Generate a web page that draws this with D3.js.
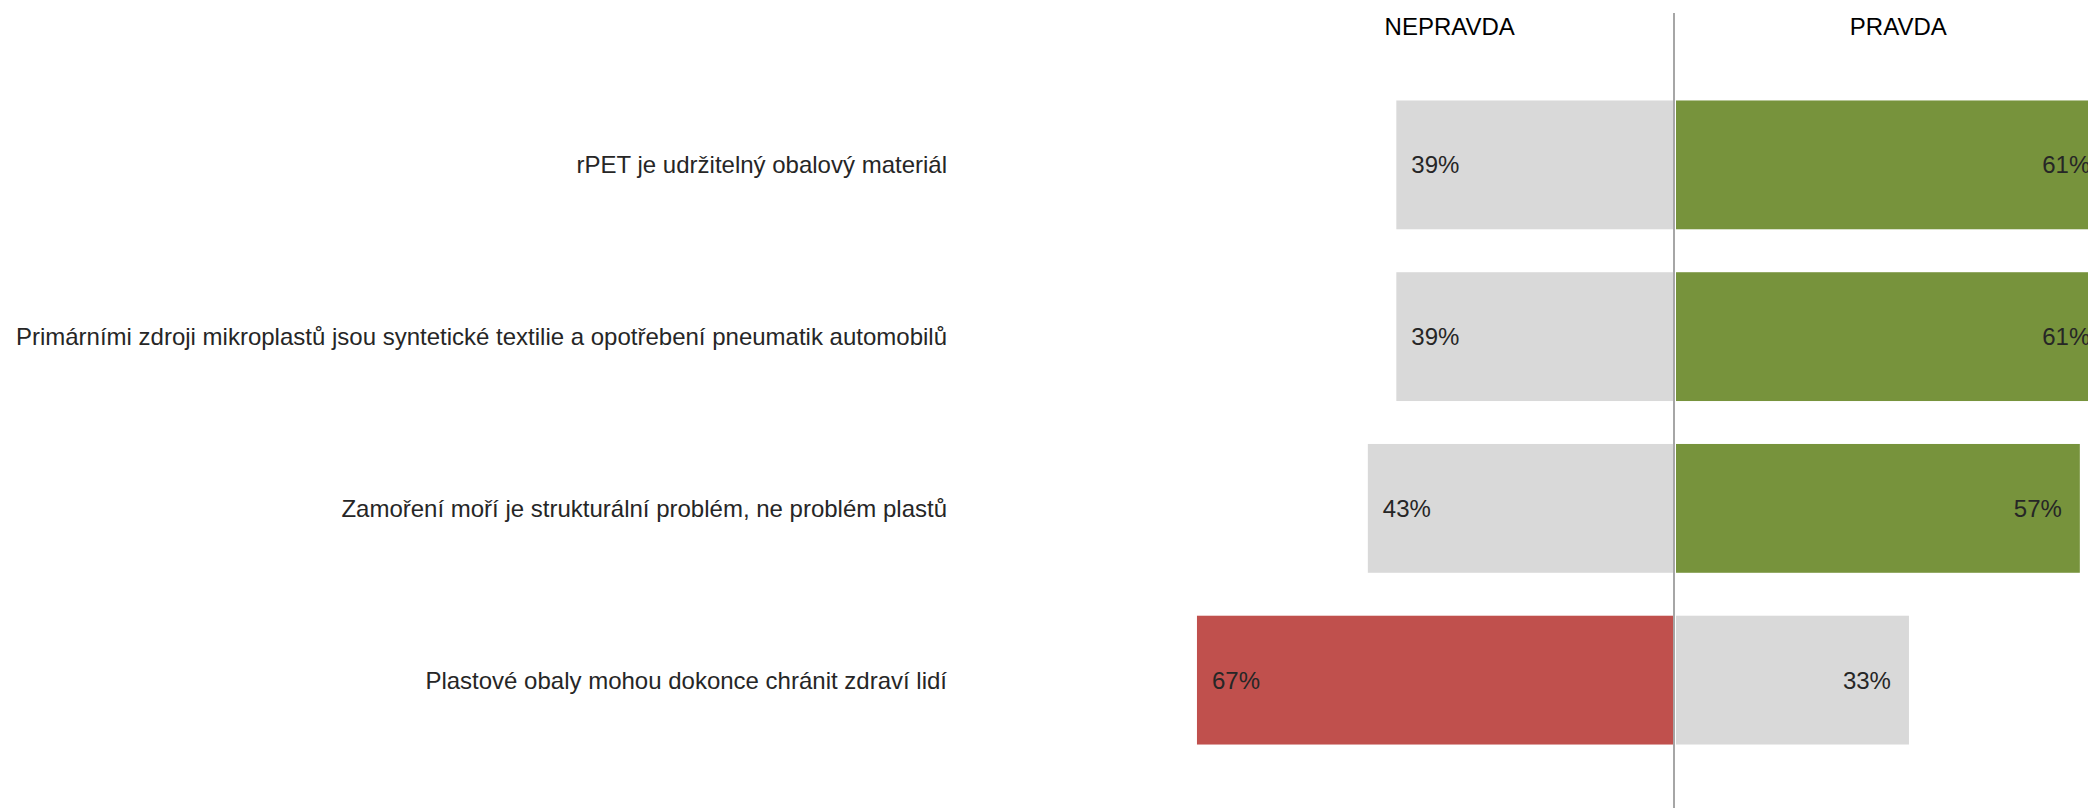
<!DOCTYPE html>
<html>
<head>
<meta charset="utf-8">
<script src="https://cdn.jsdelivr.net/npm/d3@7"></script>
<style>
  body { margin: 0; background: #fff; }
  text { font-family: "Liberation Sans", Arial, sans-serif; }
</style>
</head>
<body>
<div id="chart"></div>
<script>
// statements and answer shares
var categories = [
    "rPET je udržitelný obalový materiál",
    "Primárními zdroji mikroplastů jsou syntetické textilie a opotřebení pneumatik automobilů",
    "Zamoření moří je strukturální problém, ne problém plastů",
    "Plastové obaly mohou dokonce chránit zdraví lidí"
];
var nepravda = [39, 39, 43, 67];
var pravda = [61, 61, 57, 33];
var headers = ["NEPRAVDA", "PRAVDA"];

var width = 2088;
var height = 808;
var center = 1674;

var svg = d3.select("#chart")
    .append("svg")
    .attr("width", width)
    .attr("height", height);

var x = d3.scaleLinear()
    .domain([-100, 100])
    .range([center - 712, center + 712]);

var y = d3.scaleBand()
    .domain(categories)
    .range([79, 766])
    .paddingInner(0.25)
    .paddingOuter(0.125);

var data = categories.map(function(c, i) {
    return { cat: c, no: nepravda[i], yes: pravda[i] };
});

// left bars (nepravda)
svg.selectAll(".barNo")
    .data(data)
    .enter()
    .append("rect")
    .attr("class", "barNo")
    .attr("x", function(d) { return x(-d.no); })
    .attr("y", function(d) { return y(d.cat); })
    .attr("width", function(d) { return x(0) - x(-d.no); })
    .attr("height", y.bandwidth())
    .style("fill", function(d) { return d.no > 50 ? "#c0504d" : "#d9d9d9"; });

// right bars (pravda)
svg.selectAll(".barYes")
    .data(data)
    .enter()
    .append("rect")
    .attr("class", "barYes")
    .attr("x", x(0) + 2)
    .attr("y", function(d) { return y(d.cat); })
    .attr("width", function(d) { return x(d.yes) - x(0) - 2; })
    .attr("height", y.bandwidth())
    .style("fill", function(d) { return d.yes > 50 ? "#77933c" : "#d9d9d9"; });

// value labels
svg.selectAll(".lblNo")
    .data(data)
    .enter()
    .append("text")
    .attr("x", function(d) { return x(-d.no) + 15; })
    .attr("y", function(d) { return y(d.cat) + y.bandwidth() / 2; })
    .attr("dy", "0.35em")
    .style("font-size", "24px")
    .style("fill", "#262626")
    .text(function(d) { return d.no + "%"; });

svg.selectAll(".lblYes")
    .data(data)
    .enter()
    .append("text")
    .attr("x", function(d) { return x(d.yes) - 18; })
    .attr("y", function(d) { return y(d.cat) + y.bandwidth() / 2; })
    .attr("dy", "0.35em")
    .attr("text-anchor", "end")
    .style("font-size", "24px")
    .style("fill", "#262626")
    .text(function(d) { return d.yes + "%"; });

// category labels
svg.selectAll(".cat")
    .data(data)
    .enter()
    .append("text")
    .attr("x", 947)
    .attr("y", function(d) { return y(d.cat) + y.bandwidth() / 2; })
    .attr("dy", "0.35em")
    .attr("text-anchor", "end")
    .style("font-size", "24px")
    .style("fill", "#262626")
    .text(function(d) { return d.cat; });

// center line
svg.append("line")
    .attr("x1", x(0)).attr("x2", x(0))
    .attr("y1", 13).attr("y2", height)
    .style("stroke", "#a6a6a6")
    .style("stroke-width", 2);

// headers
svg.selectAll(".hdr")
    .data(headers)
    .enter()
    .append("text")
    .attr("x", function(d, i) { return i == 0 ? x(-31.5) : x(31.5); })
    .attr("y", 27)
    .attr("dy", "0.35em")
    .attr("text-anchor", "middle")
    .style("font-size", "24px")
    .style("fill", "#000")
    .text(function(d) { return d; });
</script>
</body>
</html>
